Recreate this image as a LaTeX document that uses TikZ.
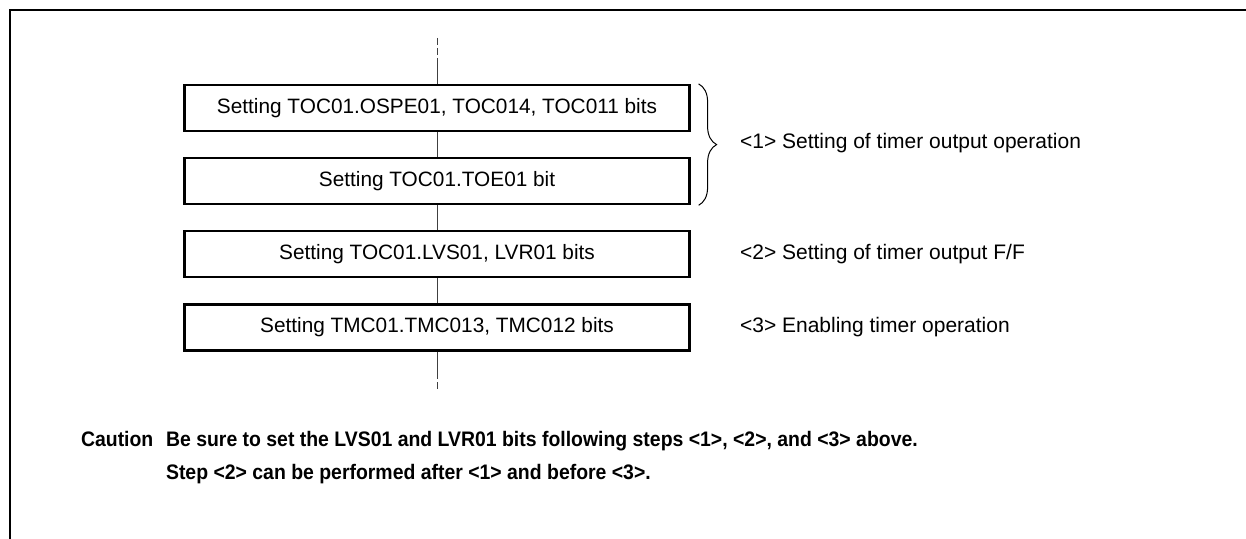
\documentclass[tikz,border=0pt]{standalone}
\usepackage{fontspec}
\setmainfont{Liberation Sans}
\newfontfamily\cautionfont[FakeStretch=0.925]{Liberation Sans}
\usetikzlibrary{positioning,decorations.pathreplacing}

\begin{document}
\begin{tikzpicture}[x=0.5pt,y=-0.5pt,
  stepbox/.style={draw,line width=1.1pt,minimum width=252.5pt,minimum height=23pt,inner sep=0pt,font=\fontsize{10.4}{12}\selectfont},
  flow/.style={line width=0.5pt,black!75},
  note/.style={anchor=west,font=\fontsize{10.5}{12}\selectfont},
  caution/.style={anchor=base west,font=\cautionfont\bfseries\fontsize{10.5}{12}\selectfont},
  node distance=12.5pt]
\useasboundingbox (0,0) rectangle (1246,539);
% frame
\draw[line width=1.4pt] (10,539) -- (10,10) -- (1246,10);
% steps
\node[stepbox] (b1) at (437,108) {Setting TOC01.OSPE01, TOC014, TOC011 bits};
\node[stepbox,below=of b1] (b2) {Setting TOC01.TOE01 bit};
\node[stepbox,below=of b2] (b3) {Setting TOC01.LVS01, LVR01 bits};
\node[stepbox,below=of b3] (b4) {Setting TMC01.TMC013, TMC012 bits};
% flow line
\coordinate (topend) at (437,38);
\coordinate (topdash) at (437,62);
\coordinate (botdash) at (437,372);
\coordinate (botend) at (437,389);
\draw[flow,dash pattern=on 3.5pt off 1.5pt] (topend) -- (topdash);
\draw[flow] (topdash) -- (b1.north);
\draw[flow] (b1) -- (b2);
\draw[flow] (b2) -- (b3);
\draw[flow] (b3) -- (b4);
\draw[flow] (b4.south) -- (botdash);
\draw[flow,dash pattern=on 3.5pt off 1.5pt] (botdash) -- (botend);
% brace
\draw[line width=0.5pt,decorate,decoration={brace,amplitude=9pt}] ([xshift=4pt]b1.north east) -- ([xshift=4pt]b2.south east);
% notes
\node[note] (s1) at (733,143) {<1> Setting of timer output operation};
\node[note] (s2) at (733,254) {<2> Setting of timer output F/F};
\node[note] (s3) at (733,327) {<3> Enabling timer operation};
% caution
\node[caution] (ctitle) at (74,446) {Caution};
\node[caution] (c1) at (159,446) {Be sure to set the LVS01 and LVR01 bits following steps <1>, <2>, and <3> above.};
\node[caution] (c2) at (159,479) {Step <2> can be performed after <1> and before <3>.};
\end{tikzpicture}
\end{document}
